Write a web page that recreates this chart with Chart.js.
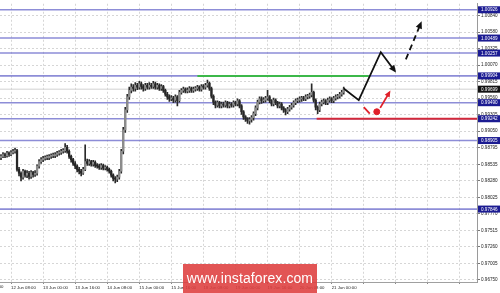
<!DOCTYPE html>
<html><head><meta charset="utf-8">
<script src="https://cdn.jsdelivr.net/npm/chart.js@4.4.0/dist/chart.umd.min.js"></script>
<style>
html,body{margin:0;padding:0;background:#fff;overflow:hidden;}
#wrap{position:relative;width:500px;height:293px;}
canvas{display:block;}
#wm{position:absolute;left:183px;top:264px;width:134px;height:29px;background:rgba(222,62,62,0.88);color:#fff;font:14px 'Liberation Sans',Arial,sans-serif;line-height:29px;text-align:center;letter-spacing:0.1px;}
</style></head><body>
<div id="wrap"><canvas id="c" width="500" height="293"></canvas><div id="wm">www.instaforex.com</div></div>
<script>
// ---- data (H1 candles) ----
const opens = [0.9864,0.9866,0.9869,0.9867,0.9871,0.9869,0.9872,0.9874,0.9875,0.9846,
0.9840,0.9834,0.9843,0.9837,0.9840,0.9835,0.9841,0.9838,0.9840,0.9851,
0.9858,0.9861,0.9863,0.9864,0.9864,0.9866,0.9867,0.9867,0.9869,0.9871,
0.9872,0.9874,0.9875,0.9880,0.9874,0.9866,0.9861,0.9855,0.9851,0.9846,
0.9843,0.9840,0.9846,0.9858,0.9855,0.9858,0.9854,0.9857,0.9852,0.9851,
0.9849,0.9852,0.9848,0.9849,0.9846,0.9843,0.9837,0.9832,0.9831,0.9834,
0.9843,0.9874,0.9907,0.9938,0.9958,0.9968,0.9973,0.9971,0.9976,0.9973,
0.9978,0.9974,0.9971,0.9976,0.9973,0.9976,0.9974,0.9978,0.9973,0.9976,
0.9971,0.9974,0.9968,0.9962,0.9958,0.9955,0.9956,0.9953,0.9958,0.9952,
0.9965,0.9968,0.9970,0.9967,0.9968,0.9971,0.9968,0.9970,0.9971,0.9973,
0.9970,0.9974,0.9973,0.9976,0.9979,0.9971,0.9959,0.9950,0.9945,0.9949,
0.9944,0.9947,0.9945,0.9949,0.9944,0.9947,0.9945,0.9949,0.9947,0.9952,
0.9944,0.9935,0.9927,0.9924,0.9921,0.9923,0.9926,0.9932,0.9941,0.9950,
0.9955,0.9952,0.9953,0.9956,0.9958,0.9952,0.9947,0.9953,0.9949,0.9944,
0.9947,0.9941,0.9938,0.9935,0.9939,0.9942,0.9945,0.9949,0.9952,0.9953,
0.9955,0.9956,0.9955,0.9958,0.9959,0.9961,0.9965,0.9953,0.9942,0.9938,
0.9947,0.9950,0.9952,0.9949,0.9953,0.9955,0.9952,0.9956,0.9958,0.9959,
0.9962,0.9965];
const highs = [0.9869,0.9872,0.9871,0.9874,0.9873,0.9875,0.9877,0.9879,0.9877,0.9849,
0.9842,0.9846,0.9845,0.9844,0.9843,0.9844,0.9843,0.9844,0.9853,0.9861,
0.9864,0.9866,0.9867,0.9868,0.9869,0.9870,0.9871,0.9872,0.9874,0.9875,
0.9877,0.9878,0.9886,0.9883,0.9876,0.9868,0.9863,0.9858,0.9853,0.9849,
0.9846,0.9849,0.9884,0.9862,0.9861,0.9860,0.9860,0.9859,0.9855,0.9854,
0.9855,0.9854,0.9852,0.9851,0.9848,0.9845,0.9839,0.9835,0.9837,0.9846,
0.9877,0.9911,0.9942,0.9962,0.9973,0.9978,0.9977,0.9980,0.9979,0.9982,
0.9981,0.9977,0.9979,0.9979,0.9980,0.9979,0.9982,0.9981,0.9979,0.9978,
0.9977,0.9976,0.9970,0.9965,0.9961,0.9960,0.9959,0.9961,0.9960,0.9968,
0.9971,0.9973,0.9972,0.9972,0.9974,0.9973,0.9973,0.9974,0.9976,0.9975,
0.9977,0.9977,0.9979,0.9984,0.9981,0.9973,0.9961,0.9952,0.9952,0.9951,
0.9950,0.9950,0.9952,0.9951,0.9950,0.9949,0.9952,0.9951,0.9955,0.9954,
0.9946,0.9937,0.9929,0.9926,0.9926,0.9929,0.9935,0.9944,0.9953,0.9958,
0.9958,0.9957,0.9959,0.9968,0.9960,0.9954,0.9956,0.9955,0.9951,0.9950,
0.9949,0.9943,0.9940,0.9942,0.9945,0.9948,0.9952,0.9955,0.9956,0.9958,
0.9959,0.9959,0.9961,0.9962,0.9964,0.9978,0.9967,0.9955,0.9944,0.9950,
0.9953,0.9955,0.9954,0.9956,0.9958,0.9957,0.9959,0.9961,0.9962,0.9965,
0.9968,0.9973];
const lows = [0.9861,0.9864,0.9864,0.9865,0.9866,0.9867,0.9870,0.9871,0.9843,0.9836,
0.9828,0.9831,0.9834,0.9833,0.9831,0.9832,0.9834,0.9835,0.9837,0.9848,
0.9855,0.9858,0.9860,0.9861,0.9861,0.9863,0.9864,0.9864,0.9866,0.9868,
0.9869,0.9871,0.9872,0.9871,0.9863,0.9857,0.9852,0.9847,0.9842,0.9839,
0.9836,0.9838,0.9844,0.9852,0.9852,0.9851,0.9851,0.9849,0.9848,0.9846,
0.9846,0.9845,0.9845,0.9843,0.9840,0.9834,0.9828,0.9825,0.9827,0.9831,
0.9840,0.9870,0.9903,0.9934,0.9954,0.9964,0.9967,0.9967,0.9969,0.9970,
0.9970,0.9967,0.9968,0.9970,0.9970,0.9971,0.9971,0.9970,0.9970,0.9968,
0.9968,0.9965,0.9959,0.9954,0.9951,0.9952,0.9949,0.9950,0.9944,0.9950,
0.9962,0.9965,0.9964,0.9964,0.9965,0.9965,0.9965,0.9967,0.9968,0.9967,
0.9967,0.9970,0.9970,0.9973,0.9968,0.9956,0.9946,0.9941,0.9942,0.9941,
0.9941,0.9942,0.9942,0.9941,0.9941,0.9942,0.9942,0.9944,0.9944,0.9941,
0.9931,0.9923,0.9920,0.9917,0.9916,0.9919,0.9922,0.9929,0.9938,0.9947,
0.9948,0.9949,0.9950,0.9953,0.9949,0.9944,0.9944,0.9946,0.9941,0.9941,
0.9938,0.9934,0.9930,0.9932,0.9936,0.9939,0.9942,0.9946,0.9949,0.9950,
0.9951,0.9952,0.9952,0.9955,0.9956,0.9958,0.9950,0.9938,0.9932,0.9935,
0.9944,0.9947,0.9946,0.9946,0.9950,0.9949,0.9949,0.9953,0.9955,0.9956,
0.9959,0.9962];
const closes = [0.9866,0.9869,0.9867,0.9871,0.9869,0.9872,0.9874,0.9875,0.9846,0.9840,
0.9834,0.9843,0.9837,0.9840,0.9835,0.9841,0.9838,0.9840,0.9851,0.9858,
0.9861,0.9863,0.9864,0.9864,0.9866,0.9867,0.9867,0.9869,0.9871,0.9872,
0.9874,0.9875,0.9880,0.9874,0.9866,0.9861,0.9855,0.9851,0.9846,0.9843,
0.9840,0.9846,0.9858,0.9855,0.9858,0.9854,0.9857,0.9852,0.9851,0.9849,
0.9852,0.9848,0.9849,0.9846,0.9843,0.9837,0.9832,0.9831,0.9834,0.9843,
0.9874,0.9907,0.9938,0.9958,0.9968,0.9973,0.9971,0.9976,0.9973,0.9978,
0.9974,0.9971,0.9976,0.9973,0.9976,0.9974,0.9978,0.9973,0.9976,0.9971,
0.9974,0.9968,0.9962,0.9958,0.9955,0.9956,0.9953,0.9958,0.9952,0.9965,
0.9968,0.9970,0.9967,0.9968,0.9971,0.9968,0.9970,0.9971,0.9973,0.9970,
0.9974,0.9973,0.9976,0.9979,0.9971,0.9959,0.9950,0.9945,0.9949,0.9944,
0.9947,0.9945,0.9949,0.9944,0.9947,0.9945,0.9949,0.9947,0.9952,0.9944,
0.9935,0.9927,0.9924,0.9921,0.9923,0.9926,0.9932,0.9941,0.9950,0.9955,
0.9952,0.9953,0.9956,0.9958,0.9952,0.9947,0.9953,0.9949,0.9944,0.9947,
0.9941,0.9938,0.9935,0.9939,0.9942,0.9945,0.9949,0.9952,0.9953,0.9955,
0.9956,0.9955,0.9958,0.9959,0.9961,0.9965,0.9953,0.9942,0.9938,0.9947,
0.9950,0.9952,0.9949,0.9953,0.9955,0.9952,0.9956,0.9958,0.9959,0.9962,
0.9965,0.9970];

const yTickValues = [0.96750,0.97005,0.97260,0.97515,0.97770,0.98025,0.98280,0.98535,0.98795,0.99050,0.99305,0.99560,0.99815,1.00070,1.00325,1.00580,1.00840];
const levelPrices = [1.00926,1.00489,1.00257,0.99904,0.99490,0.99242,0.98905,0.97846];
const currentPrice = 0.99699;
const xTickIdx = [5,21,37,53,69,85,101,117,133,149,165,181,197,213,229];
const xTickLabels = ['12 Jun 08:00','13 Jun 00:00','13 Jun 16:00','14 Jun 08:00','15 Jun 00:00','15 Jun 16:00','18 Jun 08:00','19 Jun 00:00','19 Jun 16:00','20 Jun 08:00','21 Jun 00:00','','','',''];
const cutLabelIdx = -11, cutLabel = '11 Jun 16:00';   // label partly outside the left edge

// analysis drawings (bar index, price)
const greenX = [98, 183.5],  greenY = [0.99904, 0.99904];
const redLevelX = [157.5, 237.5], redLevelY = [0.99242, 0.99242];
const pathX = [171, 178.5, 189.5, 196.5], pathY = [0.9971, 0.9953, 1.0027, 0.9998];
const dashX = [202, 209.5], dashY = [1.0016, 1.0072];
const redDashX = [181, 184], redDashY = [0.9942, 0.9932];
const redArrowX = [189.2, 193.8], redArrowY = [0.9941, 0.9965];
const redDotX = 187.5, redDotY = 0.9935;

const X_MIN = -0.5, X_MAX = 237.5;
const Y_MIN = 0.96719, Y_MAX = 1.01019;

// ---- build datasets ----
const idx = closes.map((_, i) => i);
const wickData = idx.map(i => ({x: i, y: [lows[i], highs[i]]}));
const bodyData = idx.map(i => ({x: i, y: [Math.min(opens[i], closes[i]), Math.max(opens[i], closes[i])]}));
const bodyColors = idx.map(i => closes[i] >= opens[i] ? '#8c8c8c' : '#262626');
const pts = (xs, ys) => xs.map((x, i) => ({x, y: ys[i]}));

const levelSets = levelPrices.map(p => ({
  type: 'line', data: [{x: X_MIN, y: p}, {x: X_MAX, y: p}],
  borderColor: 'rgba(112,112,205,0.8)', borderWidth: 1.6, pointRadius: 0, order: 5
}));

const datasets = [
  ...levelSets,
  {type: 'line', data: [{x: X_MIN, y: currentPrice}, {x: X_MAX, y: currentPrice}], borderColor: '#d2d2d2', borderWidth: 1, pointRadius: 0, order: 6},
  {type: 'line', data: pts(greenX, greenY), borderColor: '#3cb84a', borderWidth: 2, pointRadius: 0, order: 4},
  {type: 'line', data: pts(redLevelX, redLevelY), borderColor: '#d2283a', borderWidth: 2, pointRadius: 0, order: 4},
  {type: 'bar', data: wickData, backgroundColor: '#2a2a2a', barThickness: 1, grouped: false, order: 2},
  {type: 'bar', data: bodyData, backgroundColor: bodyColors, barThickness: 1.6, minBarLength: 1, grouped: false, order: 1},
  {type: 'line', data: pts(pathX, pathY), borderColor: '#111', borderWidth: 1.8, pointRadius: 0, order: 0, arrowHead: 8},
  {type: 'line', data: pts(dashX, dashY), borderColor: '#111', borderWidth: 1.8, borderDash: [6, 4], pointRadius: 0, order: 0, arrowHead: 8},
  {type: 'line', data: pts(redDashX, redDashY), borderColor: '#e0202a', borderWidth: 1.8, pointRadius: 0, order: 0},
  {type: 'line', data: pts(redArrowX, redArrowY), borderColor: '#e0202a', borderWidth: 1.8, pointRadius: 0, order: 0, arrowHead: 7},
  {type: 'line', data: [{x: redDotX, y: redDotY}], showLine: false, pointRadius: 3, pointBackgroundColor: '#e0202a', pointBorderColor: '#e0202a', order: 0}
];

const arrowPlugin = {
  id: 'arrows',
  afterDatasetsDraw(chart) {
    const ctx = chart.ctx;
    chart.data.datasets.forEach((ds, di) => {
      if (!ds.arrowHead) return;
      const els = chart.getDatasetMeta(di).data;
      const a = els[els.length - 2], b = els[els.length - 1];
      const ang = Math.atan2(b.y - a.y, b.x - a.x);
      const L = ds.arrowHead;
      const tx = b.x + Math.cos(ang) * 2, ty = b.y + Math.sin(ang) * 2;
      ctx.save();
      ctx.fillStyle = ds.borderColor;
      ctx.beginPath();
      ctx.moveTo(tx, ty);
      ctx.lineTo(tx - L * Math.cos(ang - 0.42), ty - L * Math.sin(ang - 0.42));
      ctx.lineTo(tx - L * Math.cos(ang + 0.42), ty - L * Math.sin(ang + 0.42));
      ctx.closePath();
      ctx.fill();
      ctx.restore();
    });
  }
};

const tagPlugin = {
  id: 'tags',
  afterDraw(chart) {
    const ys = chart.scales.y, xs = chart.scales.x, ctx = chart.ctx;
    const left = ys.left + 1;
    ctx.save();
    // cut-off time label at the left edge
    ctx.font = '4.3px "Liberation Sans", Arial, sans-serif';
    ctx.fillStyle = '#222';
    ctx.textBaseline = 'top';
    ctx.textAlign = 'left';
    ctx.fillText(cutLabel, xs.getPixelForValue(cutLabelIdx), xs.top + 3);
    // level price tags
    ctx.font = '4.6px "Liberation Sans", Arial, sans-serif';
    ctx.textBaseline = 'middle';
    const tag = (v, bg) => {
      const py = ys.getPixelForValue(v);
      ctx.fillStyle = bg;
      ctx.fillRect(left, py - 3.5, 500 - left, 7);
      ctx.fillStyle = '#fff';
      ctx.fillText(v.toFixed(5), left + 3, py + 0.3);
    };
    levelPrices.forEach(v => tag(v, '#1b1b92'));
    tag(currentPrice, '#111');
    ctx.restore();
  }
};

new Chart(document.getElementById('c'), {
  type: 'bar',
  data: {datasets},
  options: {
    responsive: false,
    animation: false,
    events: [],
    layout: {autoPadding: false, padding: {left: 0, right: 0, top: 1, bottom: 0}},
    plugins: {legend: {display: false}, tooltip: {enabled: false}},
    scales: {
      x: {
        type: 'linear', min: X_MIN, max: X_MAX, offset: false, bounds: 'data',
        afterBuildTicks: s => { s.ticks = xTickIdx.map(v => ({value: v})); },
        afterFit: s => { s.height = 11; },
        ticks: {autoSkip: false, maxRotation: 0, minRotation: 0, align: 'start', padding: 1,
          font: {size: 4.3, family: '"Liberation Sans", Arial, sans-serif'}, color: '#222',
          callback: (v, i) => xTickLabels[i]},
        grid: {color: '#d6d6d6', tickLength: 2, offset: false, tickColor: '#888'},
        border: {display: true, color: '#a0a0a0', width: 1, dash: [2, 2]}
      },
      y: {
        position: 'right', min: Y_MIN, max: Y_MAX, bounds: 'data',
        afterBuildTicks: s => { s.ticks = yTickValues.map(v => ({value: v})); },
        afterFit: s => { s.width = 23; },
        ticks: {autoSkip: false, padding: 1, font: {size: 4.6, family: '"Liberation Sans", Arial, sans-serif'}, color: '#222',
          callback: v => v.toFixed(5)},
        grid: {color: '#d6d6d6', tickLength: 3, tickColor: '#777'},
        border: {display: true, color: '#9a9a9a', width: 1, dash: [2, 2]}
      }
    }
  },
  plugins: [arrowPlugin, tagPlugin]
});
</script>
</body></html>
